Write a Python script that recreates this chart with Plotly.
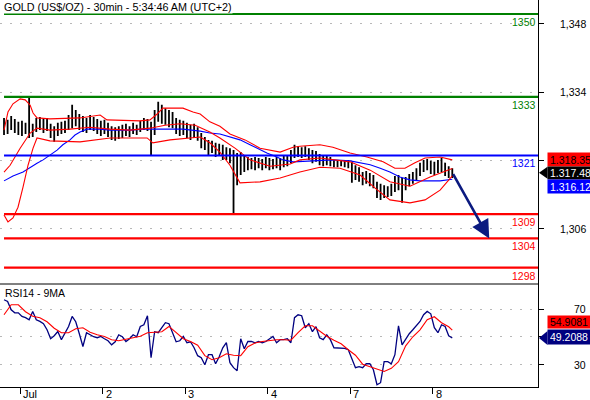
import plotly.graph_objects as go

# ---------------- text / ticks ----------------
title_text = "GOLD (US$/OZ) - 30min - 5:34:46 AM (UTC+2)"
rsi_title = "RSI14 - 9MA"

day_tick_x = [4.5, 27.5, 50.5, 73.5, 96.5, 119.5]
day_labels = ["Jul", "2", "3", "4", "7", "8"]

# the 1,320 and 50 labels are hidden behind the value boxes in the original
price_ticks = [1348, 1334, 1320, 1306]
price_tick_labels = ["1,348", "1,334", "", "1,306"]
rsi_ticks = [70, 50, 30]
rsi_tick_labels = ["70", "", "30"]

level_values = [1350, 1333, 1321, 1309, 1304, 1298]
level_labels = ["1350", "1333", "1321", "1309", "1304", "1298"]
level_colors = ["#008000", "#008000", "#0000FF", "#FF0000", "#FF0000", "#FF0000"]

# ---------------- price bars (hourly-sampled 30min bars) ----------------
bar_high = [
    1328.7, 1328.3, 1329.1, 1328.5, 1327.9, 1328.1, 1327.7, 1333.0, 1327.5, 1328.7,
    1328.9, 1328.5, 1328.7, 1327.5, 1327.0, 1327.7, 1327.9, 1328.1, 1329.3, 1331.4,
    1330.3, 1329.5, 1329.1, 1328.7, 1329.3, 1328.9, 1328.5, 1328.1, 1328.3, 1327.7,
    1327.0, 1326.8, 1327.0, 1327.3, 1327.5, 1327.0, 1327.7, 1327.3, 1328.1, 1328.7,
    1328.5, 1327.9, 1330.3, 1332.0, 1331.4, 1330.7, 1330.3, 1329.9, 1328.7, 1328.3,
    1328.1, 1327.7, 1327.3, 1327.5, 1326.8, 1325.6, 1324.8, 1324.2, 1324.0, 1323.6,
    1323.4, 1323.2, 1322.7, 1322.5, 1322.1, 1321.5, 1321.7, 1320.9, 1320.7, 1320.5,
    1320.7, 1320.5, 1320.3, 1320.7, 1320.5, 1320.3, 1320.7, 1320.5, 1320.9, 1321.1,
    1322.1, 1323.2, 1322.9, 1322.7, 1322.9, 1322.5, 1322.1, 1321.9, 1321.3, 1321.1,
    1320.9, 1320.7, 1320.1, 1320.1, 1320.1, 1319.9, 1320.1, 1319.7, 1319.0, 1318.6,
    1317.6, 1317.8, 1317.4, 1317.0, 1315.6, 1315.2, 1314.9, 1314.7, 1315.2, 1316.8,
    1317.0, 1316.4, 1316.6, 1317.2, 1317.6, 1318.4, 1319.5, 1320.1, 1320.3, 1319.9,
    1319.7, 1320.1, 1320.5, 1319.5, 1318.8, 1318.4,
]
bar_low = [
    1325.2, 1325.4, 1326.2, 1325.6, 1325.2, 1325.0, 1325.4, 1324.6, 1324.8, 1325.8,
    1326.2, 1325.6, 1326.0, 1324.6, 1323.8, 1325.0, 1325.4, 1325.6, 1326.2, 1326.6,
    1327.0, 1326.2, 1325.8, 1325.6, 1326.2, 1326.0, 1325.4, 1325.0, 1325.4, 1324.8,
    1324.2, 1324.0, 1324.4, 1324.6, 1325.0, 1324.8, 1325.4, 1325.2, 1325.8, 1326.2,
    1326.0, 1321.1, 1325.2, 1327.9, 1327.5, 1327.3, 1326.8, 1326.6, 1325.4, 1325.0,
    1325.2, 1324.6, 1324.2, 1324.6, 1324.0, 1322.5, 1322.1, 1321.1, 1321.5, 1320.7,
    1320.9, 1320.1, 1320.1, 1319.4, 1309.2, 1314.9, 1317.0, 1317.6, 1318.0, 1318.2,
    1318.0, 1318.4, 1318.0, 1318.4, 1318.0, 1318.2, 1318.4, 1318.0, 1318.6, 1318.8,
    1319.4, 1320.5, 1320.7, 1320.5, 1320.7, 1320.1, 1319.4, 1319.7, 1319.0, 1318.8,
    1319.0, 1318.8, 1318.6, 1318.6, 1318.8, 1318.6, 1318.4, 1315.4, 1316.0, 1315.6,
    1314.9, 1315.2, 1314.7, 1314.3, 1312.3, 1311.9, 1312.3, 1312.5, 1312.7, 1313.5,
    1313.9, 1311.3, 1313.9, 1314.7, 1315.2, 1316.0, 1316.8, 1317.6, 1318.0, 1317.2,
    1317.0, 1317.4, 1317.6, 1316.8, 1316.4, 1316.4,
]
bar_close = [
    1326.8, 1327.5, 1327.9, 1326.6, 1327.0, 1326.2, 1326.8, 1326.0, 1326.4, 1327.7,
    1327.3, 1327.9, 1326.8, 1325.6, 1326.0, 1326.6, 1326.8, 1327.3, 1328.3, 1329.5,
    1328.7, 1327.9, 1327.0, 1327.5, 1327.9, 1327.3, 1326.6, 1326.2, 1327.0, 1326.0,
    1325.6, 1325.2, 1326.0, 1325.6, 1326.4, 1326.0, 1326.6, 1326.2, 1327.0, 1327.7,
    1327.3, 1326.2, 1328.7, 1330.3, 1329.3, 1329.7, 1328.5, 1328.1, 1326.8, 1326.4,
    1327.0, 1326.0, 1325.4, 1326.2, 1325.0, 1323.9, 1323.1, 1322.5, 1322.9, 1321.7,
    1322.1, 1321.3, 1321.5, 1320.7, 1317.0, 1318.4, 1320.1, 1319.0, 1319.4, 1319.2,
    1319.6, 1319.0, 1319.4, 1319.6, 1319.0, 1319.4, 1319.2, 1319.6, 1319.9, 1320.3,
    1321.3, 1322.1, 1321.9, 1321.7, 1322.1, 1321.1, 1320.7, 1320.9, 1320.1, 1319.9,
    1320.1, 1319.6, 1319.4, 1319.2, 1319.4, 1319.2, 1319.4, 1317.6, 1317.4, 1316.8,
    1316.2, 1316.6, 1316.0, 1315.4, 1313.7, 1313.3, 1313.5, 1313.9, 1314.1, 1315.4,
    1314.7, 1315.2, 1315.8, 1316.4, 1316.8, 1317.6, 1318.6, 1319.2, 1319.4, 1318.4,
    1318.0, 1318.8, 1319.4, 1318.0, 1317.6, 1317.48,
]
first_open = 1326.5
bar_x = list(range(len(bar_close)))
bar_open = [first_open] + bar_close[:-1]

# ---------------- Bollinger bands & moving average ----------------
bb_upper_x = [0, 1.1, 2.5, 4.5, 5.9, 7.3, 8.1, 9.2, 12.8, 21.2, 26.8, 28.7, 37.9, 40.7, 42.7,
              44.3, 49.9, 52.7, 54.7, 57.4, 60.2, 63, 67.2, 71.4, 77, 80.6, 82.5, 88.1, 91.7,
              96.5, 101.2, 105.7, 109, 111.8, 114.6, 117.4, 121.6, 125]
bb_upper = [1326.2, 1329.9, 1331.6, 1332.6, 1332.4, 1331.3, 1329.7, 1328.7, 1328.5, 1328.7,
            1329.3, 1328.3, 1328.1, 1328.3, 1329.5, 1330.7, 1330.7, 1329.9, 1329.5, 1327.9,
            1327.0, 1325.4, 1324.2, 1322.5, 1321.7, 1322.7, 1322.9, 1323.2, 1322.7, 1321.5,
            1320.7, 1319.7, 1318.4, 1318.4, 1319.5, 1320.5, 1320.7, 1320.1]
bb_mid_x = [0, 1.7, 4.5, 7.3, 9.2, 12.8, 18.4, 24, 29.6, 35.1, 40.7, 44.9, 49.1, 53.3, 57.4,
            60.2, 64.4, 68.6, 74.2, 79.8, 82.5, 88.1, 96.5, 102.1, 107.6, 113.2, 118.8, 125]
bb_mid = [1317.6, 1319.0, 1322.5, 1325.6, 1326.6, 1326.2, 1326.4, 1326.8, 1326.4, 1326.2,
          1326.6, 1327.2, 1327.5, 1327.2, 1325.8, 1324.6, 1322.5, 1320.1, 1318.8, 1319.25,
          1320.1, 1320.5, 1319.7, 1318.0, 1315.6, 1314.7, 1316.6, 1318.35]
bb_lower_x = [0, 1.1, 2.5, 3.9, 5.3, 6.7, 8.1, 9.2, 12.8, 21.2, 29.6, 39.9, 41.5, 46.3, 54.7,
              57.4, 60.2, 63, 65.8, 71.4, 77, 82.5, 88.1, 93.7, 99.3, 103.5, 107.6, 113.2,
              117.4, 121.6, 125]
bb_lower = [1308.8, 1307.4, 1308.2, 1310.4, 1314.5, 1319.0, 1322.5, 1324.6, 1324.0, 1323.8,
            1324.6, 1324.6, 1323.6, 1324.2, 1324.8, 1323.6, 1321.7, 1319.0, 1315.4, 1315.6,
            1316.4, 1317.6, 1318.6, 1318.4, 1317.0, 1314.3, 1311.9, 1311.3, 1311.9, 1313.9,
            1316.8]
ma_x = [0, 2.5, 5.3, 7.3, 9.2, 10.9, 12.8, 14.8, 16.4, 18.4, 19.8, 21.2, 23.1, 26.8, 29.6,
        35.1, 38.8, 42.5, 46.3, 49.9, 54.7, 57.4, 60.2, 63, 65.8, 68.6, 71.4, 73.3, 76.1,
        77.8, 80.6, 88.1, 91.7, 96.5, 99.3, 102.1, 104.9, 107.6, 110.4, 113.2, 116, 121.6, 125]
ma_vals = [1315.8, 1316.8, 1317.6, 1318.6, 1319.4, 1320.1, 1321.1, 1322.1, 1323.2, 1324.2,
           1325.2, 1325.8, 1326.4, 1326.4, 1326.2, 1326.2, 1326.4, 1326.4, 1326.4, 1326.4,
           1326.0, 1325.6, 1325.4, 1324.8, 1324.2, 1323.2, 1322.1, 1321.5, 1320.7, 1320.1,
           1319.7, 1319.9, 1320.1, 1319.9, 1319.5, 1319.1, 1318.4, 1317.6, 1316.6, 1316.0,
           1315.8, 1315.8, 1316.12]

# ---------------- RSI ----------------
rsi_vals = [
    76.7, 75.5, 69.5, 67.3, 67.3, 64.7, 63.8, 62.3, 68.3, 62.3,
    61.1, 59.5, 55.1, 48.7, 50.8, 53.9, 48.0, 52.3, 57.5, 64.7,
    60.9, 52.3, 43.1, 53.0, 51.5, 50.1, 49.4, 50.3, 48.7, 47.2,
    44.3, 46.5, 51.5, 50.1, 46.7, 48.7, 51.5, 50.1, 57.5, 58.7,
    65.2, 35.0, 53.7, 53.0, 56.6, 60.2, 59.5, 52.3, 46.5, 47.2,
    50.3, 45.8, 46.5, 42.2, 36.5, 35.0, 30.0, 37.2, 37.2, 30.7,
    35.7, 42.2, 45.8, 31.5, 27.9, 25.7, 48.7, 41.5, 46.7, 46.7,
    45.8, 46.7, 45.8, 46.7, 48.7, 50.3, 45.8, 48.0, 48.0, 48.7,
    45.8, 63.8, 65.9, 65.2, 56.6, 59.5, 53.7, 57.3, 49.4, 48.0,
    51.5, 48.0, 42.2, 42.2, 42.2, 41.8, 40.8, 33.6, 27.9, 28.6,
    27.9, 30.7, 30.7, 26.4, 15.6, 17.1, 32.2, 32.2, 30.7, 37.2,
    58.0, 44.3, 48.7, 52.3, 55.1, 58.0, 61.1, 65.9, 68.3, 66.6,
    56.6, 53.0, 58.7, 57.5, 50.8, 49.2088,
]
rsi_ma_x = list(range(0, 125, 2)) + [125]
rsi_ma = [
    65.9, 73.1, 73.1, 68.1, 64.8, 63.8, 60.9, 56.2, 53.0, 53.0,
    55.9, 56.6, 53.3, 51.5, 50.3, 48.0, 47.2, 48.3, 49.4, 50.5,
    53.0, 53.5, 53.7, 57.5, 53.3, 48.7, 46.7, 44.0, 36.5, 33.6,
    35.0, 37.9, 36.8, 36.5, 42.9, 45.6, 46.7, 47.6, 48.0, 48.0,
    47.6, 53.0, 58.0, 58.0, 54.1, 50.5, 47.6, 45.1, 40.8, 36.8,
    30.4, 28.8, 27.1, 25.2, 27.4, 32.2, 43.6, 50.1, 55.1, 62.3,
    64.5, 60.2, 57.3, 54.9081,
]

arrow_target_x = 135.3   # projected bar position of the forecast arrow head
arrow_target_level = level_values[4]

# ---------------- layout constants ----------------
W, H = 590, 400
ML, MR, MT, MB = 0, 52, 0, 13
plot_w = W - ML - MR
plot_h = H - MT - MB
split = (plot_h - 284) / plot_h
x_range = [-1.12, 148.9]
y_range = [1294.66, 1352.87]
rsi_range = [14, 88]
FONT = "Liberation Sans, Arial, sans-serif"

def px_to_paper_x(px):
    return (px - ML) / plot_w

fig = go.Figure()

fig.add_trace(go.Ohlc(
    x=bar_x, open=bar_open, high=bar_high, low=bar_low, close=bar_close,
    increasing=dict(line=dict(color="black", width=1.8)),
    decreasing=dict(line=dict(color="black", width=1.8)),
    tickwidth=0.15, xaxis="x", yaxis="y", hoverinfo="skip", showlegend=False))

for xs, ys, col in [(ma_x, ma_vals, "#0000FF"), (bb_upper_x, bb_upper, "#FF0000"),
                    (bb_mid_x, bb_mid, "#FF0000"), (bb_lower_x, bb_lower, "#FF0000")]:
    fig.add_trace(go.Scatter(x=xs, y=ys, mode="lines", line=dict(color=col, width=1.1),
                             xaxis="x", yaxis="y", hoverinfo="skip", showlegend=False))

fig.add_trace(go.Scatter(x=bar_x, y=rsi_vals, mode="lines",
                         line=dict(color="#000080", width=1.3),
                         xaxis="x", yaxis="y2", hoverinfo="skip", showlegend=False))
fig.add_trace(go.Scatter(x=rsi_ma_x, y=rsi_ma, mode="lines",
                         line=dict(color="#FF0000", width=1.1),
                         xaxis="x", yaxis="y2", hoverinfo="skip", showlegend=False))

shapes = []
for v, c in zip(level_values, level_colors):
    shapes.append(dict(type="line", xref="x", yref="y", x0=bar_x[0], x1=x_range[1],
                       y0=v, y1=v, line=dict(color=c, width=2.2), layer="above"))
shapes.append(dict(type="line", xref="paper", yref="paper", x0=0, x1=1, y0=split, y1=split,
                   line=dict(color="black", width=1)))

annotations = []
annotations.append(dict(text=title_text, xref="paper", yref="paper", x=px_to_paper_x(3), y=1,
                        xanchor="left", yanchor="top", showarrow=False, bgcolor="white",
                        borderpad=0, height=12, font=dict(family=FONT, size=10.8, color="black")))
annotations.append(dict(text=rsi_title, xref="paper", yref="paper", x=px_to_paper_x(3), y=split,
                        xanchor="left", yanchor="top", yshift=-1, showarrow=False,
                        font=dict(family=FONT, size=10.5, color="black")))

for v, t, c in zip(level_values, level_labels, level_colors):
    annotations.append(dict(text=t, xref="paper", yref="y", x=px_to_paper_x(537), y=v,
                            xanchor="right", yanchor="top", yshift=-1, showarrow=False,
                            borderpad=0, font=dict(family=FONT, size=10.5, color=c)))

for v, t in zip(price_ticks, price_tick_labels):
    if t:
        annotations.append(dict(text=t, xref="paper", yref="y", x=px_to_paper_x(588), y=v,
                                xanchor="right", yanchor="middle", showarrow=False,
                                font=dict(family=FONT, size=10.5, color="black")))
for v, t in zip(rsi_ticks, rsi_tick_labels):
    if t:
        annotations.append(dict(text=t, xref="paper", yref="y2", x=px_to_paper_x(588), y=v,
                                xanchor="right", yanchor="middle", showarrow=False,
                                font=dict(family=FONT, size=10.5, color="black")))

for xv, t in zip(day_tick_x, day_labels):
    annotations.append(dict(text=t, xref="x", yref="paper", x=xv, y=0, xanchor="left",
                            yanchor="top", xshift=1, yshift=1, showarrow=False,
                            font=dict(family=FONT, size=11, color="black")))

# value boxes on the right
def value_box(val, yref, text, bg, fg, yshift, h):
    annotations.append(dict(text=text, xref="paper", yref=yref, x=px_to_paper_x(547), y=val,
                            xanchor="left", yanchor="middle", yshift=yshift, showarrow=False,
                            bgcolor=bg, borderpad=2, width=52, height=h - 4, align="left",
                            font=dict(family=FONT, size=10.5, color=fg)))

def pointer(val, yref, half, color):
    xa, xb = px_to_paper_x(539), px_to_paper_x(547.5)
    shapes.append(dict(type="path", xref="paper", yref=yref, layer="above",
                       path=f"M {xa},{val} L {xb},{val + half} L {xb},{val - half} Z",
                       fillcolor=color, line=dict(width=0)))

price_scale = plot_h * (1 - split) / (y_range[1] - y_range[0])
rsi_scale = plot_h * split / (rsi_range[1] - rsi_range[0])

last_close = bar_close[-1]
value_box(bb_mid[-1], "y", f"{bb_mid[-1]:,.2f}", "#FF0000", "black", 9.2, 13)
value_box(last_close, "y", f"{last_close:,.2f}", "black", "white", 0, 12)
pointer(last_close, "y", 6 / price_scale, "black")
value_box(ma_vals[-1], "y", f"{ma_vals[-1]:,.2f}", "#0000FF", "white", -6.9, 13)

value_box(rsi_ma[-1], "y2", f"{rsi_ma[-1]:.4f}", "#FF0000", "black", 7.8, 12)
value_box(rsi_vals[-1], "y2", f"{rsi_vals[-1]:.4f}", "#000080", "white", 0.5, 14)
pointer(rsi_vals[-1], "y2", 7 / rsi_scale, "#000080")

annotations.append(dict(text="", x=arrow_target_x, y=arrow_target_level, xref="x", yref="y",
                        ax=bar_x[-1], ay=last_close, axref="x", ayref="y", showarrow=True,
                        arrowhead=2, arrowsize=1.4, arrowwidth=2.6, arrowcolor="#0b1a80",
                        standoff=0))

grid_style = dict(showgrid=True, gridcolor="#b8b8b8", gridwidth=1, griddash="2px,8px")

fig.update_layout(
    template="none",
    width=W, height=H, margin=dict(l=ML, r=MR, t=MT, b=MB, pad=0, autoexpand=False),
    paper_bgcolor="white", plot_bgcolor="white", showlegend=False,
    xaxis=dict(domain=[0, 1], anchor="y2", range=x_range, showgrid=False, zeroline=False,
               showline=True, linecolor="black", linewidth=1, ticks="outside", ticklen=6,
               tickcolor="black", tickvals=day_tick_x, showticklabels=False, automargin=False,
               rangeslider=dict(visible=False), fixedrange=True),
    yaxis=dict(domain=[split, 1], anchor="x", side="right", range=y_range, zeroline=False,
               showline=True, linecolor="black", linewidth=1, ticks="outside", ticklen=5,
               tickcolor="black", tickvals=price_ticks, showticklabels=False,
               automargin=False, **grid_style),
    yaxis2=dict(domain=[0, split], anchor="x", side="right", range=rsi_range, zeroline=False,
                showline=True, linecolor="black", linewidth=1, ticks="outside", ticklen=5,
                tickcolor="black", tickvals=rsi_ticks, showticklabels=False,
                automargin=False, **grid_style),
    shapes=shapes, annotations=annotations,
)

fig.write_html("out.html", config={"staticPlot": True},
               post_script="document.body.style.margin='0';document.body.style.overflow='hidden';")
